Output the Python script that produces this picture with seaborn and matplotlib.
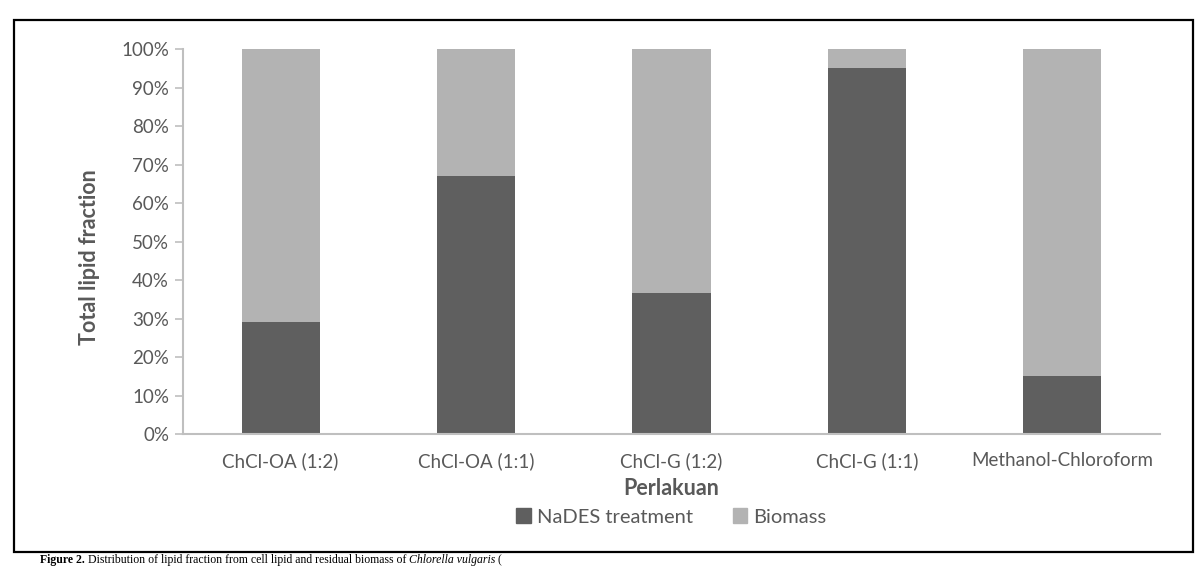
import matplotlib
matplotlib.use("Agg")
import matplotlib.pyplot as plt
import matplotlib.patches as mpatches
import seaborn as sns
import pandas as pd

# Data
categories = ["ChCl-OA (1:2)", "ChCl-OA (1:1)", "ChCl-G (1:2)", "ChCl-G (1:1)", "Methanol-Chloroform"]
nades = [29.0, 67.0, 36.5, 95.0, 15.0]
biomass = [71.0, 33.0, 63.5, 5.0, 85.0]
y_ticks = list(range(0, 101, 10))

dark = "#5f5f5f"
light = "#b3b3b3"
text_col = "#595959"
axis_col = "#bfbfbf"

sns.set_style("white")
plt.rcParams["font.family"] = ["Lato", "DejaVu Sans"]

df = pd.DataFrame({"cat": categories, "nades": nades, "biomass": biomass})
df["total"] = df["nades"] + df["biomass"]

fig = plt.figure(figsize=(12.03, 5.68), dpi=100)
ax = fig.add_axes([0.1521, 0.2359, 0.8122, 0.6778])

# stacked bars: total (light) first, NaDES (dark) on top of it
sns.barplot(data=df, x="cat", y="total", color=light, width=0.4, saturation=1,
            linewidth=0, ax=ax)
sns.barplot(data=df, x="cat", y="nades", color=dark, width=0.4, saturation=1,
            linewidth=0, ax=ax)
if ax.get_legend() is not None:
    ax.get_legend().remove()

ax.set_xlim(-0.5, len(categories) - 0.5)
ax.set_ylim(0, 100)
ax.set_yticks(y_ticks)
ax.set_yticklabels([f"{t}%" for t in y_ticks])
ax.tick_params(axis="y", colors=axis_col, length=6, width=1.2, labelcolor=text_col,
               labelsize=13.5, pad=4, left=True)
ax.tick_params(axis="x", length=0, labelcolor=text_col, labelsize=13.5, pad=13)

for s in ["top", "right"]:
    ax.spines[s].set_visible(False)
for s in ["left", "bottom"]:
    ax.spines[s].set_color(axis_col)
    ax.spines[s].set_linewidth(1.5)

ax.set_xlabel("Perlakuan", fontsize=15.5, fontweight="bold", color=text_col, labelpad=6)
ax.set_ylabel("Total lipid fraction", fontsize=15.5, fontweight="bold", color=text_col)
ax.yaxis.set_label_coords(-0.085, 0.46)

handles = [mpatches.Patch(color=dark, label="NaDES treatment"),
           mpatches.Patch(color=light, label="Biomass")]
fig.legend(handles=handles, loc="center", bbox_to_anchor=(0.558, 1 - 517 / 568), ncol=2,
           frameon=False, fontsize=14.5, labelcolor=text_col, handlelength=0.7,
           handleheight=0.7, handletextpad=0.3, columnspacing=2.0)

# border around the chart
fig.patches.append(mpatches.Rectangle((14 / 1203, 1 - 552 / 568), (1193 - 14) / 1203,
                                      (552 - 20) / 568, transform=fig.transFigure,
                                      fill=False, edgecolor="black", linewidth=1.6))

# caption under the border (fitted inside the image)
fig.canvas.draw()
renderer = fig.canvas.get_renderer()
x0 = 40 / 1203
cy = 1.5 / 568
parts = [("Figure 2.", "bold", "normal"),
         (" Distribution of lipid fraction from cell lipid and residual biomass of ", "normal", "normal"),
         ("Chlorella vulgaris", "normal", "italic"),
         (" (", "normal", "normal")]
for txt, w, st in parts:
    t = fig.text(x0, cy, txt, fontsize=8.5, fontweight=w, fontstyle=st, va="bottom",
                 ha="left", family="Liberation Serif", color="black")
    bb = t.get_window_extent(renderer)
    x0 = bb.x1 / fig.bbox.width

fig.savefig("out.png", dpi=100)
